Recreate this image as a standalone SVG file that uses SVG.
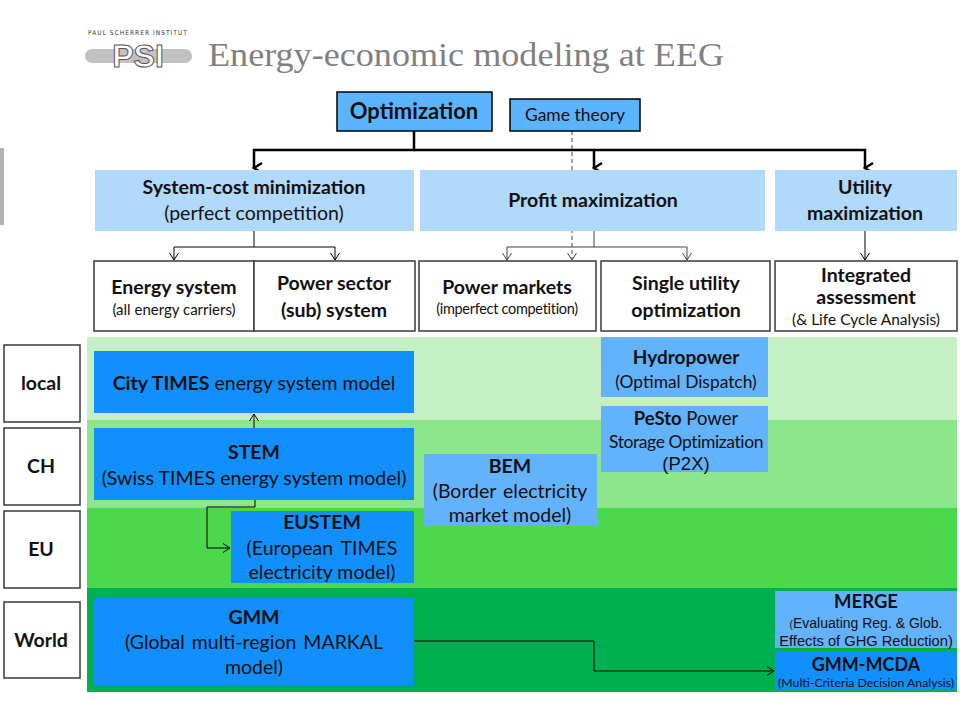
<svg xmlns="http://www.w3.org/2000/svg" width="960" height="720" viewBox="0 0 960 720">
<style>
text{font-family:Lato,"Open Sans","Liberation Sans",sans-serif;fill:#111;text-anchor:middle}
.b{font-weight:bold}
.h{font-size:19.5px}
.m{font-size:19.5px}
.wbox{fill:#fff;stroke:#3a3a3a;stroke-width:1.5}
.cat{fill:#b0d9fb}
.dk{fill:#118ffc}
.lt{fill:#62b2fc}
.top{fill:#5cb3ff;stroke:#000;stroke-width:1.5}
.thick{fill:none;stroke:#000;stroke-width:2.5}
.thin{fill:none;stroke:#000;stroke-width:1}
.gray{fill:none;stroke:#444;stroke-width:1}
.dash{fill:none;stroke:#444;stroke-width:1;stroke-dasharray:4,3}
.arial{font-family:"Liberation Sans",Arial,sans-serif}
</style>
<defs>
<marker id="ab" markerUnits="userSpaceOnUse" markerWidth="14" markerHeight="14" viewBox="0 0 14 14" refX="7" refY="12" orient="auto-start-reverse">
<path d="M2,4 L7,12 L12,4" fill="none" stroke="#000" stroke-width="2.5"/>
</marker>
<marker id="as" markerUnits="userSpaceOnUse" markerWidth="12" markerHeight="12" viewBox="0 0 12 12" refX="11" refY="6" orient="auto">
<path d="M4,1.5 L11,6 L4,10.5" fill="none" stroke="#000" stroke-width="1"/>
</marker>
<marker id="ag" markerUnits="userSpaceOnUse" markerWidth="12" markerHeight="12" viewBox="0 0 12 12" refX="11" refY="6" orient="auto">
<path d="M4,1.5 L11,6 L4,10.5" fill="none" stroke="#444" stroke-width="1"/>
</marker>
</defs>

<g id="header">
<rect x="0" y="148" width="4" height="77" fill="#b3b3b3"/>
<text x="138" y="35" style="font-family:'DejaVu Sans Condensed','Liberation Sans',sans-serif;font-size:6.5px;letter-spacing:1.05px;fill:#333">PAUL SCHERRER INSTITUT</text>
<rect x="85" y="49" width="107" height="14" rx="7" fill="#c2c2c2"/>
<text x="138" y="67" class="arial" style="font-size:32px;font-weight:bold;fill:#fff;stroke:#555;stroke-width:1">PSI</text>
<text x="208" y="66" textLength="516" lengthAdjust="spacingAndGlyphs" style="font-family:'Liberation Serif','Times New Roman',serif;font-size:33px;fill:#808080;text-anchor:start">Energy-economic modeling at EEG</text>
</g>

<g id="bands">
<rect x="87" y="337" width="870" height="83" fill="#c4f0c4"/>
<rect x="87" y="420" width="870" height="88" fill="#8ce68c"/>
<rect x="87" y="508" width="870" height="80" fill="#4cd84c"/>
<rect x="87" y="588" width="870" height="104" fill="#00b050"/>
</g>

<g id="connectors">
<path class="thick" d="M414,131 V150 H254 V168" marker-end="url(#ab)"/>
<path class="thick" d="M414,150 H594 V168" marker-end="url(#ab)"/>
<path class="thick" d="M594,150 H865 V168" marker-end="url(#ab)"/>
<path class="dash" d="M572,131 V260" marker-end="url(#ag)"/>
<path class="thin" d="M254,231 V247 H174 V260" marker-end="url(#as)"/>
<path class="thin" d="M254,247 H335 V260" marker-end="url(#as)"/>
<path class="gray" d="M594,231 V247 H507 V260" marker-end="url(#ag)"/>
<path class="gray" d="M594,247 H687 V260" marker-end="url(#ag)"/>
<path class="thin" d="M865,231 V260" marker-end="url(#as)"/>
<path class="thin" d="M254,428 V414" marker-end="url(#as)"/>
<path class="thin" d="M255,500 V507 H207 V548 H230" marker-end="url(#as)"/>
<path class="thin" d="M414,641 H594 V671 H774" marker-end="url(#as)"/>
</g>

<g id="optimization">
<rect class="top" x="337" y="92" width="155" height="39"/>
<text x="414" y="119" class="b" style="font-size:22px">Optimization</text>
</g>
<g id="game-theory">
<rect class="top" x="510" y="99" width="130" height="32"/>
<text x="575" y="121" style="font-size:17.5px">Game theory</text>
</g>

<g id="system-cost">
<rect class="cat" x="95" y="170" width="319" height="61"/>
<text x="254" y="194" class="b h">System-cost minimization</text>
<text x="254" y="220" class="h">(perfect competition)</text>
</g>
<g id="profit">
<rect class="cat" x="420" y="170" width="345" height="61"/>
<text x="593" y="207" class="b h">Profit maximization</text>
</g>
<g id="utility">
<rect class="cat" x="775" y="170" width="182" height="61"/>
<text x="865" y="194" class="b h">Utility</text>
<text x="865" y="220" class="b h">maximization</text>
</g>

<g id="energy-system">
<rect class="wbox" x="94" y="261" width="160" height="70"/>
<text x="174" y="294" class="b h">Energy system</text>
<text x="174" y="315" style="font-size:15px">(all energy carriers)</text>
</g>
<g id="power-sector">
<rect class="wbox" x="254" y="261" width="161" height="70"/>
<text x="334" y="290" class="b h">Power sector</text>
<text x="334" y="317" class="b h">(sub) system</text>
</g>
<g id="power-markets">
<rect class="wbox" x="419" y="261" width="177" height="70"/>
<text x="507" y="294" class="b h">Power markets</text>
<text x="507" y="314" style="font-size:14.5px;letter-spacing:-0.3px">(imperfect competition)</text>
</g>
<g id="single-utility">
<rect class="wbox" x="601" y="261" width="169" height="70"/>
<text x="686" y="290" class="b h">Single utility</text>
<text x="686" y="317" class="b h">optimization</text>
</g>
<g id="integrated">
<rect class="wbox" x="775" y="261" width="182" height="70"/>
<text x="866" y="282" class="b h">Integrated</text>
<text x="866" y="304" class="b h">assessment</text>
<text x="866" y="325" style="font-size:15.5px">(&amp; Life Cycle Analysis)</text>
</g>

<g id="label-local">
<rect class="wbox" x="4" y="345" width="76" height="77"/>
<text x="41" y="390" class="b h">local</text>
</g>
<g id="label-ch">
<rect class="wbox" x="4" y="428" width="76" height="77"/>
<text x="41" y="473" class="b h">CH</text>
</g>
<g id="label-eu">
<rect class="wbox" x="4" y="511" width="76" height="77"/>
<text x="41" y="556" class="b h">EU</text>
</g>
<g id="label-world">
<rect class="wbox" x="4" y="602" width="76" height="76"/>
<text x="41" y="647" class="b h">World</text>
</g>

<g id="city-times">
<rect class="dk" x="94" y="351" width="320" height="62"/>
<text x="254" y="390" class="m"><tspan class="b">City TIMES</tspan> energy system model</text>
</g>
<g id="stem">
<rect class="dk" x="94" y="428" width="320" height="72"/>
<text x="254" y="459" class="b m">STEM</text>
<text x="254" y="485" class="m">(Swiss TIMES energy system model)</text>
</g>
<g id="eustem">
<rect class="dk" x="231" y="511" width="183" height="72"/>
<text x="322" y="529" class="b m">EUSTEM</text>
<text x="322" y="555" class="m" style="word-spacing:3px">(European TIMES</text>
<text x="322" y="579" class="m">electricity model)</text>
</g>
<g id="bem">
<rect class="lt" x="424" y="454" width="173" height="72"/>
<text x="510" y="473" class="b m">BEM</text>
<text x="510" y="498" class="m" style="word-spacing:2px">(Border electricity</text>
<text x="510" y="522" class="m">market model)</text>
</g>
<g id="hydropower">
<rect class="lt" x="601" y="337" width="167" height="60"/>
<text x="686" y="364" class="b" style="font-size:19px">Hydropower</text>
<text x="686" y="388" style="font-size:17.4px">(Optimal Dispatch)</text>
</g>
<g id="pesto">
<rect class="lt" x="601" y="406" width="167" height="66"/>
<text x="686" y="425" style="font-size:18.5px"><tspan class="b">PeSto</tspan> Power</text>
<text x="686" y="448" style="font-size:17.5px;letter-spacing:-0.4px">Storage Optimization</text>
<text x="686" y="470" class="arial" style="font-size:18.5px">(P2X)</text>
</g>
<g id="gmm">
<rect class="dk" x="94" y="598" width="320" height="87"/>
<text x="254" y="624" class="b m">GMM</text>
<text x="254" y="649" class="m" style="word-spacing:2px">(Global multi-region MARKAL</text>
<text x="254" y="674" class="m">model)</text>
</g>
<g id="merge">
<rect class="lt" x="775" y="591" width="182" height="57"/>
<text x="866" y="608" class="b" style="font-size:18.5px">MERGE</text>
<text x="866" y="628" class="arial" style="font-size:14px"><tspan style="font-size:10px">(</tspan>Evaluating Reg. &amp; Glob.</text>
<text x="866" y="646" class="arial" style="font-size:14.7px">Effects of GHG Reduction)</text>
</g>
<g id="gmm-mcda">
<rect class="dk" x="775" y="651" width="182" height="39"/>
<text x="866" y="671" class="b" style="font-size:18px">GMM-MCDA</text>
<text x="866" y="687" style="font-size:12.3px">(Multi-Criteria Decision Analysis)</text>
</g>
</svg>
